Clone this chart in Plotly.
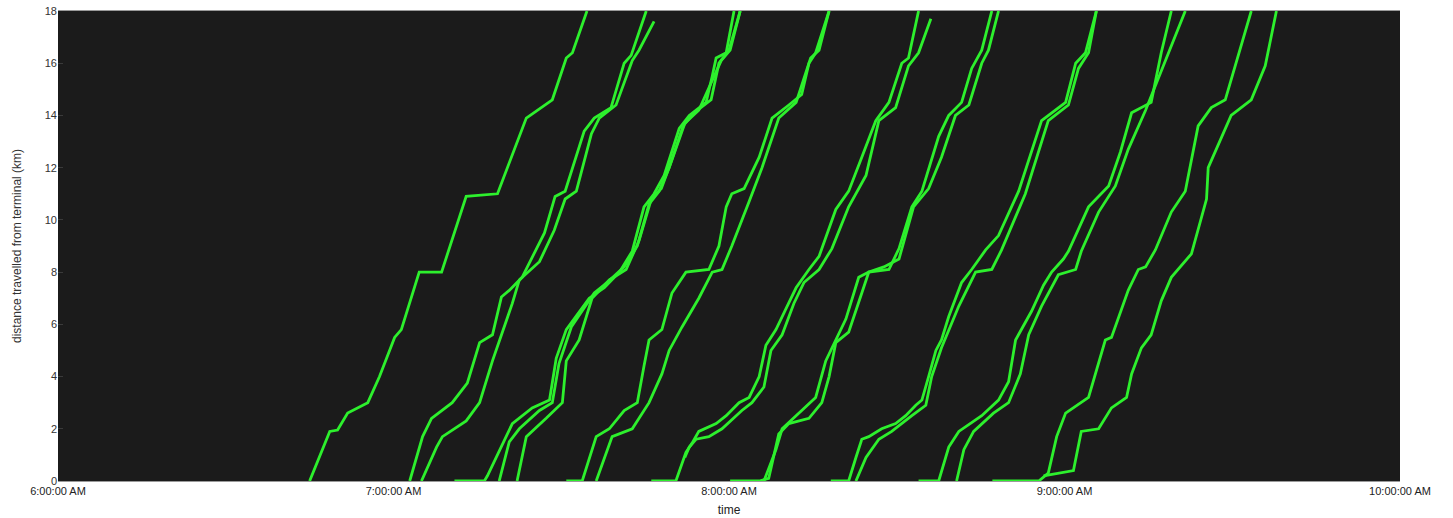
import pandas as pd
import plotly.graph_objects as go

# minutes after 6:00 AM, distance travelled (km)
t_A = [45.0, 48.6, 50.0, 51.8, 55.4, 57.5, 60.2, 61.4, 64.6, 68.6, 73.0, 78.6, 83.75, 88.4, 90.9, 92.0, 94.6]
d_A = [0, 1.9, 1.95, 2.6, 3.0, 4.0, 5.5, 5.8, 8.0, 8.0, 10.9, 11.0, 13.9, 14.6, 16.2, 16.4, 18]

t_B1 = [62.9, 65.2, 66.8, 70.5, 73.2, 75.4, 77.7, 79.3, 80.7, 83.0, 87.0, 88.9, 90.7, 94.1, 95.9, 98.9, 101.25, 102.5, 105.2]
d_B1 = [0, 1.7, 2.4, 3.0, 3.75, 5.3, 5.6, 7.05, 7.3, 7.8, 9.5, 10.9, 11.1, 13.4, 13.9, 14.3, 16.0, 16.3, 18]

t_B2 = [65.0, 67.7, 68.75, 73.0, 75.4, 77.7, 81.25, 82.5, 86.1, 88.75, 90.7, 92.7, 95.4, 96.8, 99.8, 102.7, 103.9, 106.6]
d_B2 = [0, 1.3, 1.7, 2.3, 3.0, 4.6, 6.8, 7.7, 8.4, 9.6, 10.8, 11.1, 13.3, 13.9, 14.4, 16.1, 16.5, 17.6]

t_C1 = [70.9, 76.25, 76.8, 80.2, 81.25, 84.8, 87.9, 89.1, 90.9, 95.0, 97.7, 100.4, 102.7, 104.8, 106.6, 108.4, 111.1, 112.9, 115.9, 117.0, 117.7, 119.5, 120.9]
d_C1 = [0, 0, 0.2, 1.7, 2.2, 2.8, 3.1, 4.7, 5.8, 7.0, 7.4, 8.0, 8.8, 10.5, 11.0, 11.7, 13.5, 14.0, 14.5, 15.5, 16.2, 16.4, 18]

t_C2 = [78.9, 80.7, 82.5, 86.1, 88.4, 89.6, 91.8, 95.9, 98.2, 101.25, 103.6, 105.7, 107.5, 109.3, 111.8, 113.75, 116.8, 118.2, 120.0, 122.0]
d_C2 = [0, 1.5, 2.0, 2.7, 3.0, 4.5, 5.9, 7.2, 7.6, 8.2, 9.0, 10.6, 11.1, 12.0, 13.6, 14.1, 14.6, 16.0, 16.5, 18]

t_C3 = [82.1, 83.75, 87.3, 90.2, 90.9, 93.2, 95.5, 98.6, 101.6, 103.9, 106.1, 107.9, 109.8, 112.1, 114.6, 117.3, 118.6, 120.2, 122.0]
d_C3 = [0, 1.7, 2.4, 3.0, 4.6, 5.4, 7.0, 7.7, 8.1, 9.2, 10.8, 11.2, 12.3, 13.7, 14.2, 15.5, 16.1, 16.5, 18]

t_D1 = [90.9, 93.75, 96.25, 98.6, 101.25, 103.6, 104.8, 105.7, 108.0, 109.8, 112.3, 116.4, 118.2, 119.5, 120.5, 122.7, 125.4, 127.7, 130.7, 133.0, 134.3, 135.5, 137.9]
d_D1 = [0, 0, 1.7, 2.0, 2.7, 3.0, 4.4, 5.4, 5.8, 7.2, 8.0, 8.1, 9.0, 10.5, 11.0, 11.2, 12.4, 13.9, 14.4, 14.8, 16.0, 16.4, 18]

t_D2 = [96.25, 99.1, 102.7, 105.7, 108.0, 109.3, 111.6, 114.6, 117.0, 118.75, 120.5, 121.8, 123.6, 125.9, 128.9, 132.0, 133.6, 134.6, 136.1, 137.9]
d_D2 = [0, 1.7, 2.0, 3.0, 4.1, 5.0, 5.9, 7.0, 8.0, 8.1, 9.0, 9.7, 10.7, 12.0, 13.9, 14.5, 15.5, 16.2, 16.5, 18]

t_E1 = [106.1, 110.5, 112.3, 113.4, 114.6, 117.7, 119.5, 121.8, 123.6, 125.4, 126.6, 128.4, 130.2, 132.0, 134.3, 136.1, 139.1, 141.4, 143.75, 146.25, 148.6, 150.9, 152.1, 153.9]
d_E1 = [0, 0, 1.1, 1.45, 1.9, 2.2, 2.5, 3.0, 3.2, 4.0, 5.2, 5.8, 6.6, 7.4, 8.1, 8.6, 10.4, 11.1, 12.4, 13.8, 14.5, 16.0, 16.2, 18]

t_E2 = [112.1, 112.9, 114.1, 116.4, 118.75, 122.3, 124.1, 126.25, 127.5, 129.5, 131.6, 133.4, 136.1, 138.4, 141.4, 144.5, 146.8, 149.8, 152.1, 153.9, 156.1]
d_E2 = [0.9, 1.3, 1.6, 1.7, 2.0, 2.7, 3.0, 3.6, 5.0, 5.6, 6.8, 7.6, 8.1, 8.9, 10.5, 11.7, 13.8, 14.3, 15.9, 16.4, 17.7]

t_F1 = [120.2, 125.4, 127.1, 128.9, 130.7, 134.3, 136.6, 137.9, 139.1, 141.4, 143.75, 145.0, 148.6, 150.4, 152.7, 154.5, 157.5, 159.3, 161.6, 163.4, 165.2, 167.0]
d_F1 = [0, 0, 0.1, 1.8, 2.2, 2.4, 3.0, 4.0, 5.3, 5.7, 7.2, 8.0, 8.1, 8.9, 10.5, 11.1, 13.2, 14.0, 14.5, 15.8, 16.5, 18]

t_F2 = [126.25, 128.4, 129.5, 133.0, 135.5, 137.3, 139.1, 140.9, 143.2, 145.0, 147.7, 150.4, 153.0, 155.7, 158.0, 160.5, 162.9, 165.2, 166.4, 168.2]
d_F2 = [0, 1.2, 2.0, 2.7, 3.2, 4.6, 5.4, 6.2, 7.8, 8.0, 8.2, 8.5, 10.5, 11.2, 12.4, 14.0, 14.4, 16.0, 16.5, 18]

t_G1 = [138.2, 141.4, 142.7, 143.75, 145.0, 147.3, 149.8, 151.6, 153.4, 154.5, 155.7, 157.0, 158.0, 159.3, 161.6, 163.4, 165.9, 168.2, 171.8, 175.9, 180.2, 182.0, 183.75, 185.7]
d_G1 = [0, 0, 0.9, 1.6, 1.7, 2.0, 2.2, 2.5, 2.9, 3.1, 4.0, 5.0, 5.4, 6.3, 7.6, 8.1, 8.85, 9.4, 11.1, 13.8, 14.5, 16.0, 16.4, 18]

t_G2 = [142.7, 144.5, 146.8, 149.1, 152.7, 155.2, 156.25, 158.0, 161.1, 164.1, 167.0, 168.75, 173.0, 177.1, 180.7, 182.5, 184.3, 185.7]
d_G2 = [0, 0.9, 1.6, 1.9, 2.5, 2.9, 4.0, 5.1, 6.7, 8.0, 8.1, 8.85, 11.0, 13.8, 14.4, 15.8, 16.4, 18]

t_H1 = [153.9, 157.5, 159.3, 161.1, 165.2, 168.2, 170.0, 171.25, 174.1, 176.25, 177.7, 179.8, 180.7, 184.3, 187.9, 190.0, 192.0, 195.5, 197.3, 199.1]
d_H1 = [0, 0, 1.3, 1.9, 2.5, 3.1, 3.8, 5.4, 6.5, 7.5, 8.0, 8.5, 8.8, 10.5, 11.3, 12.6, 14.1, 14.5, 16.4, 18]

t_H2 = [160.7, 162.0, 163.75, 167.3, 170.0, 172.1, 173.6, 175.9, 178.9, 182.0, 183.0, 186.1, 189.1, 191.4, 194.5, 197.3, 198.6, 201.6]
d_H2 = [0, 1.2, 1.9, 2.6, 3.0, 4.1, 5.6, 6.7, 7.9, 8.1, 8.8, 10.3, 11.3, 12.7, 14.2, 15.7, 16.4, 18]

t_I1 = [167.1, 175.4, 177.1, 178.6, 180.2, 184.3, 187.3, 188.4, 191.4, 193.2, 194.5, 196.25, 199.1, 201.6, 203.9, 206.25, 208.75, 210.5, 213.4]
d_I1 = [0, 0, 0.3, 1.7, 2.6, 3.2, 5.4, 5.5, 7.3, 8.1, 8.2, 8.85, 10.3, 11.1, 13.6, 14.3, 14.6, 15.9, 18]

t_I2 = [176.25, 181.6, 183.0, 186.1, 188.4, 191.1, 192.0, 193.75, 195.5, 197.3, 199.1, 202.7, 205.4, 205.7, 209.8, 213.4, 215.9, 217.9]
d_I2 = [0.2, 0.4, 1.9, 2.0, 2.8, 3.2, 4.1, 5.1, 5.6, 6.9, 7.8, 8.7, 10.8, 12.0, 14.0, 14.6, 15.9, 18]

y_ticks = [0, 2, 4, 6, 8, 10, 12, 14, 16, 18]
x_tick_hours = [0, 1, 2, 3, 4]
x_tick_labels = ["6:00:00 AM", "7:00:00 AM", "8:00:00 AM", "9:00:00 AM", "10:00:00 AM"]

buses = [
    (t_A, d_A), (t_B1, d_B1), (t_B2, d_B2), (t_C1, d_C1), (t_C2, d_C2), (t_C3, d_C3),
    (t_D1, d_D1), (t_D2, d_D2), (t_E1, d_E1), (t_E2, d_E2), (t_F1, d_F1), (t_F2, d_F2),
    (t_G1, d_G1), (t_G2, d_G2), (t_H1, d_H1), (t_H2, d_H2), (t_I1, d_I1), (t_I2, d_I2),
]

base = pd.Timestamp("2000-01-01 06:00:00")

fig = go.Figure()
for t, d in buses:
    times = base + pd.to_timedelta(t, unit="m")
    fig.add_trace(go.Scatter(
        x=times, y=d, mode="lines",
        line=dict(color="rgb(45,240,45)", width=2.8),
        showlegend=False, hoverinfo="skip",
    ))

tick_times = [base + pd.Timedelta(hours=h) for h in x_tick_hours]

fig.update_layout(
    width=1453, height=518,
    margin=dict(l=58, r=53, t=11, b=37),
    paper_bgcolor="white",
    plot_bgcolor="#1b1b1b",
    font=dict(family="Liberation Sans, Arial, sans-serif", size=11, color="#222"),
    xaxis=dict(
        range=[tick_times[0], tick_times[-1]],
        tickvals=tick_times, ticktext=x_tick_labels,
        automargin=False,
        showgrid=False, zeroline=False,
        showline=True, linecolor="#9a9a9a", linewidth=1, mirror=True,
        ticks="", tickfont=dict(size=11, color="#222"),
        title=dict(text="time", font=dict(size=12, color="#222"), standoff=9),
    ),
    yaxis=dict(
        range=[0, 18],
        tickvals=y_ticks,
        automargin=False,
        showgrid=False, zeroline=False,
        showline=False, mirror=True,
        ticks="inside", ticklen=5, tickcolor="#3a3a3a",
        tickfont=dict(size=11, color="#333"),
        title=dict(text="distance travelled from terminal (km)", font=dict(size=12, color="#333"), standoff=20),
    ),
)

# remove the browser's default 8px body margin so the figure fills the window exactly
fig.write_html(
    "out.html",
    config={"displayModeBar": False},
    post_script="document.body.style.margin='0px';",
)
